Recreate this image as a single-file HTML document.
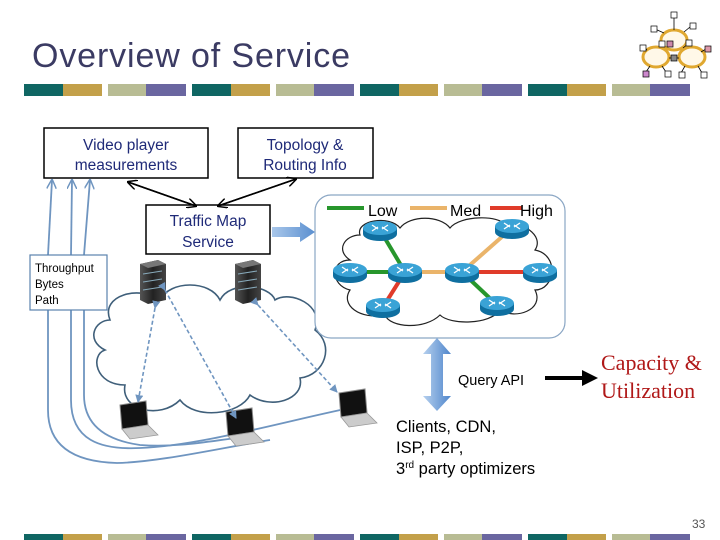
<!DOCTYPE html>
<html><head><meta charset="utf-8"><style>
html,body{margin:0;padding:0;background:#fff;}
svg{display:block;}
</style></head><body>
<svg width="720" height="540" viewBox="0 0 720 540" xmlns="http://www.w3.org/2000/svg">
<defs>
<marker id="ab" markerWidth="10" markerHeight="10" refX="9" refY="5" orient="auto" markerUnits="userSpaceOnUse"><path d="M0,0 L10,5 L0,10" fill="none" stroke="#000" stroke-width="1.5"/></marker>
<marker id="bl" markerWidth="10" markerHeight="10" refX="9" refY="5" orient="auto" markerUnits="userSpaceOnUse"><path d="M0,0 L10,5 L0,10" fill="none" stroke="#6f95c0" stroke-width="1.5"/></marker>
<marker id="bd" markerWidth="8" markerHeight="8" refX="7" refY="4" orient="auto" markerUnits="userSpaceOnUse"><path d="M0,0 L8,4 L0,8 z" fill="#6f95c0"/></marker>
<linearGradient id="bg" x1="0" x2="1"><stop offset="0" stop-color="#a9c7ea"/><stop offset="1" stop-color="#5a8fd0"/></linearGradient>
<linearGradient id="bgv" x1="0" x2="1"><stop offset="0" stop-color="#b6d0ee"/><stop offset="1" stop-color="#4f86cc"/></linearGradient>
<linearGradient id="srv" x1="0" x2="1"><stop offset="0" stop-color="#555"/><stop offset="0.5" stop-color="#222"/><stop offset="1" stop-color="#444"/></linearGradient>
<g id="router"><ellipse cx="0" cy="4" rx="17" ry="7" fill="#0f6fa0"/><rect x="-17" y="-2" width="34" height="6" fill="#0f6fa0"/><ellipse cx="0" cy="-2" rx="17" ry="7" fill="#3aa3d6"/><path d="M-8,-5 L-2,-1 M8,-5 L2,-1 M-8,1 L-2,-3 M8,1 L2,-3" stroke="#fff" stroke-width="1.3"/></g>
<g id="laptop"><path d="M4,0 L30,-4 L32,20 L6,24 z" fill="#111" stroke="#888" stroke-width="1"/><path d="M6,24 L32,20 L42,30 L14,34 z" fill="#ccc" stroke="#999" stroke-width="0.8"/></g>
<g id="server"><path d="M0,4 L18,0 L26,4 L26,40 L8,44 L0,40 z" fill="url(#srv)"/><path d="M0,4 L18,0 L26,4 L8,8 z" fill="#777"/><path d="M3,14 L22,11 M3,22 L22,19 M3,30 L22,27" stroke="#8ab" stroke-width="1"/></g>
</defs>

<!-- title -->
<text x="32" y="67" font-family="Liberation Sans, sans-serif" font-size="34" fill="#3b3b63" textLength="318">Overview of Service</text>

<!-- logo -->
<g stroke="#e0a830" stroke-width="3" fill="#fff8e8">
<ellipse cx="674" cy="40" rx="13" ry="10"/><ellipse cx="656" cy="57" rx="13" ry="10"/><ellipse cx="692" cy="57" rx="13" ry="10"/>
</g>
<g stroke="#000" stroke-width="0.8"><path d="M674,18 L674,30 M655,29 L664,33 M690,27 L684,32 M660,46 L665,42 M688,44 L683,48 M669,58 L679,58 M643,47 L647,50 M706,49 L701,52 M646,72 L650,66 M666,72 L662,66 M681,73 L685,66 M702,73 L698,66"/></g>
<g stroke="#000" stroke-width="0.7" fill="#fff"><rect x="671" y="12" width="6" height="6"/><rect x="651" y="26" width="6" height="6"/><rect x="690" y="23" width="6" height="6"/><rect x="640" y="45" width="6" height="6"/><rect x="705" y="46" width="6" height="6" fill="#d9a"/><rect x="659" y="41" width="6" height="6"/><rect x="667" y="41" width="6" height="6" fill="#c8a"/><rect x="686" y="40" width="6" height="6"/><rect x="671" y="55" width="6" height="6" fill="#888"/><rect x="643" y="71" width="6" height="6" fill="#c8c"/><rect x="665" y="71" width="6" height="6"/><rect x="679" y="72" width="6" height="6"/><rect x="701" y="72" width="6" height="6"/></g>

<!-- bars -->
<g id="bars">
<rect x="24" y="84" width="39" height="12" fill="#0f6663"/><rect x="63" y="84" width="39" height="12" fill="#c3a04a"/><rect x="108" y="84" width="38" height="12" fill="#b8bc94"/><rect x="146" y="84" width="40" height="12" fill="#6a66a0"/>
<rect x="192" y="84" width="39" height="12" fill="#0f6663"/><rect x="231" y="84" width="39" height="12" fill="#c3a04a"/><rect x="276" y="84" width="38" height="12" fill="#b8bc94"/><rect x="314" y="84" width="40" height="12" fill="#6a66a0"/>
<rect x="360" y="84" width="39" height="12" fill="#0f6663"/><rect x="399" y="84" width="39" height="12" fill="#c3a04a"/><rect x="444" y="84" width="38" height="12" fill="#b8bc94"/><rect x="482" y="84" width="40" height="12" fill="#6a66a0"/>
<rect x="528" y="84" width="39" height="12" fill="#0f6663"/><rect x="567" y="84" width="39" height="12" fill="#c3a04a"/><rect x="612" y="84" width="38" height="12" fill="#b8bc94"/><rect x="650" y="84" width="40" height="12" fill="#6a66a0"/>
</g>
<use href="#bars" y="450"/>

<!-- cloud main -->
<path d="M110,320 C100,295 140,285 160,300 C170,280 210,280 220,300 C230,280 270,285 275,300 C290,290 325,305 315,330 C335,345 325,375 300,378 C305,400 270,410 250,395 C240,415 195,420 180,400 C160,420 120,410 125,385 C95,385 90,355 105,350 C85,340 95,320 110,320 z" fill="#fff" stroke="#3f5f7a" stroke-width="1.6"/>

<!-- blue curves from laptops -->
<g fill="none" stroke="#6f95c0" stroke-width="1.8">
<path d="M48,310 L48,410 C48,450 80,462 117,463 C160,462 220,448 270,440"/>
<path d="M71,310 L71,400 C71,440 100,450 140,448 C200,446 290,420 350,408"/>
<path d="M84,310 L84,395 C84,425 105,440 140,445 C180,448 215,440 245,437"/>
<path d="M48,255 L52,180" marker-end="url(#bl)"/>
<path d="M71,255 L72,180" marker-end="url(#bl)"/>
<path d="M84,255 L90,180" marker-end="url(#bl)"/>
</g>

<!-- servers -->
<use href="#server" x="140" y="260"/>
<use href="#server" x="235" y="260"/>
<!-- laptops -->
<use href="#laptop" x="116" y="405"/>
<use href="#laptop" x="222" y="412"/>
<use href="#laptop" x="335" y="393"/>

<!-- dashed -->
<g fill="none" stroke="#6f95c0" stroke-width="1.6" stroke-dasharray="4,2.5" marker-end="url(#bd)" marker-start="url(#bd)">
<path d="M155,308 L138,402"/>
<path d="M165,290 L236,418"/>
<path d="M258,305 L337,392"/>
</g>

<!-- boxes -->
<g fill="#fff" stroke="#000" stroke-width="1.5">
<rect x="44" y="128" width="164" height="50"/>
<rect x="238" y="128" width="135" height="50"/>
<rect x="146" y="205" width="124" height="49"/>
</g>
<rect x="30" y="255" width="77" height="55" fill="#fff" stroke="#5b82ad" stroke-width="1.2"/>
<g font-family="Liberation Sans, sans-serif" font-size="15.5" fill="#1f2a78" text-anchor="middle">
<text x="126" y="150">Video player</text><text x="126" y="170">measurements</text>
<text x="305" y="150">Topology &amp;</text><text x="305" y="170">Routing Info</text>
<text x="208" y="226">Traffic Map</text><text x="208" y="247">Service</text>
</g>
<g font-family="Liberation Sans, sans-serif" font-size="11.5" fill="#000">
<text x="35" y="272">Throughput</text><text x="35" y="288">Bytes</text><text x="35" y="304">Path</text>
</g>
<g stroke="#000" stroke-width="1.5" fill="none">
<path d="M196,206 L128,182" marker-end="url(#ab)"/><path d="M128,182 L196,206" marker-end="url(#ab)"/>
<path d="M218,206 L296,179" marker-end="url(#ab)"/><path d="M296,179 L218,206" marker-end="url(#ab)"/>
</g>

<!-- blue arrow -->
<path d="M272,227 L300,227 L300,222 L315,232 L300,242 L300,237 L272,237 z" fill="url(#bg)"/>

<!-- network panel -->
<rect x="315" y="195" width="250" height="143" rx="16" fill="#fff" stroke="#8aa6c4" stroke-width="1.2"/>
<path d="M360,235 C355,220 390,215 400,228 C410,215 440,215 450,228 C460,215 500,215 505,225 C520,220 545,235 535,250 C560,255 555,290 535,290 C545,310 515,320 500,310 C490,325 450,325 440,315 C425,330 390,328 385,315 C360,320 340,305 350,290 C330,285 330,260 350,260 C335,250 345,235 360,235 z" fill="#fff" stroke="#222" stroke-width="1.2"/>
<g stroke-width="4" fill="none">
<path d="M327,208 L364,208" stroke="#27962c"/>
<path d="M410,208 L447,208" stroke="#eab46a"/>
<path d="M490,208 L522,208" stroke="#e03b2a"/>
<path d="M380,230 L405,272" stroke="#27962c"/>
<path d="M350,272 L405,272" stroke="#27962c"/>
<path d="M405,272 L462,272" stroke="#eab46a"/>
<path d="M462,272 L512,228" stroke="#eab46a"/>
<path d="M462,272 L540,272" stroke="#e03b2a"/>
<path d="M405,272 L383,307" stroke="#e03b2a"/>
<path d="M462,272 L497,305" stroke="#27962c"/>
</g>
<g font-family="Liberation Sans, sans-serif" font-size="16" fill="#000">
<text x="368" y="216">Low</text><text x="450" y="216">Med</text><text x="520" y="216">High</text>
</g>
<use href="#router" x="380" y="230"/><use href="#router" x="350" y="272"/><use href="#router" x="405" y="272"/><use href="#router" x="462" y="272"/><use href="#router" x="540" y="272"/><use href="#router" x="512" y="228"/><use href="#router" x="383" y="307"/><use href="#router" x="497" y="305"/>

<!-- query api arrow -->
<path d="M437,338 L451,354 L443,354 L443,396 L451,396 L437,411 L423,396 L431,396 L431,354 L423,354 z" fill="url(#bgv)"/>
<text x="458" y="385" font-family="Liberation Sans, sans-serif" font-size="14.5" fill="#000">Query API</text>
<path d="M545,378 L585,378" stroke="#000" stroke-width="4"/>
<path d="M582,370 L598,378 L582,386 z" fill="#000"/>
<g font-family="Liberation Serif, serif" font-size="22" fill="#b01818">
<text x="601" y="370">Capacity &amp;</text><text x="601" y="398">Utilization</text>
</g>
<g font-family="Liberation Sans, sans-serif" font-size="16.5" fill="#000">
<text x="396" y="432">Clients, CDN,</text><text x="396" y="453">ISP, P2P,</text>
<text x="396" y="474">3<tspan font-size="10" dy="-6">rd</tspan><tspan dy="6"> party optimizers</tspan></text>
</g>
<text x="692" y="528" font-family="Liberation Sans, sans-serif" font-size="12" fill="#555">33</text>
</svg>
</body></html>
